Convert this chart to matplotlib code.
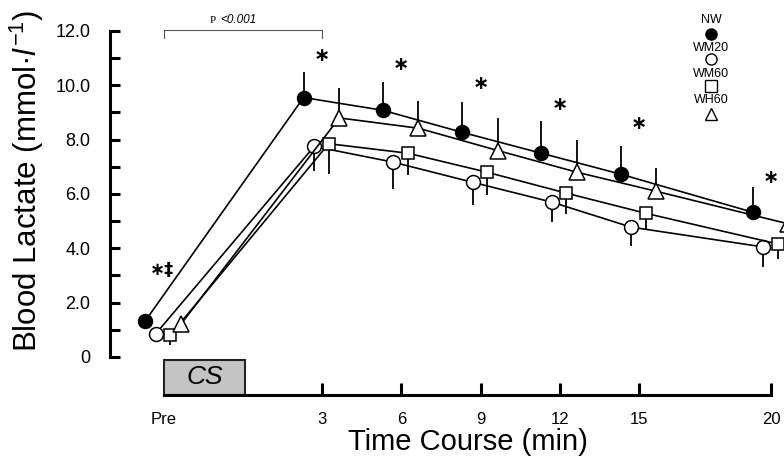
import numpy as np
import matplotlib
matplotlib.use('Agg')
import matplotlib.pyplot as plt
from matplotlib.patches import Rectangle

plt.rcParams['font.family'] = ['Liberation Sans', 'DejaVu Sans']
plt.rcParams['mathtext.fontset'] = 'custom'
plt.rcParams['mathtext.rm'] = 'Liberation Sans'
plt.rcParams['mathtext.it'] = 'Liberation Sans:italic'

# time points (Pre placed at -3 min)
times = [-3, 3, 6, 9, 12, 15, 20]
time_labels = ['Pre', '3', '6', '9', '12', '15', '20']

# blood lactate means and SD (mmol/l)
nw = [1.32, 9.55, 9.08, 8.27, 7.50, 6.73, 5.33]
nw_sd = [0.2, 0.94, 1.04, 1.11, 1.19, 1.04, 0.93]
wm20 = [0.85, 7.75, 7.17, 6.43, 5.70, 4.78, 4.05]
wm20_sd = [0.25, 0.90, 0.97, 0.85, 0.75, 0.68, 0.75]
wm60 = [0.80, 7.85, 7.50, 6.80, 6.03, 5.29, 4.16]
wm60_sd = [0.35, 1.10, 0.80, 0.85, 0.75, 0.62, 0.55]
wh60 = [1.20, 8.80, 8.42, 7.60, 6.80, 6.10, 4.90]
wh60_sd = [0.0, 1.10, 1.00, 1.20, 1.20, 0.85, 0.60]

# significance marks
sig_times = [3, 6, 9, 12, 15, 20]
sig_y = [11.1, 10.75, 10.05, 9.3, 8.6, 6.6]
pre_sig_y = 3.2

fig = plt.figure(figsize=(7.84, 4.59), dpi=100)
ax = fig.add_axes([110 / 784, 64 / 459, 674 / 784, 395 / 459])
ax.set_xlim(-5.03, 20.49)
ax.set_ylim(-1.40, 13.14)

series = [
    ('NW', nw, nw_sd, 'o', 'black', -0.7, 'up'),
    ('WM20', wm20, wm20_sd, 'o', 'white', -0.3, 'down'),
    ('WM60', wm60, wm60_sd, 's', 'white', 0.25, 'down'),
    ('WH60', wh60, wh60_sd, '^', 'white', 0.65, 'up'),
]

for name, vals, sd, mk, fc, off, side in series:
    x = np.array(times) + off
    sd = np.array(sd)
    zero = np.zeros_like(sd)
    yerr = [zero, sd] if side == 'up' else [sd, zero]
    ax.errorbar(x, vals, yerr=yerr, fmt='none', ecolor='black', elinewidth=1.3,
                capsize=0, zorder=2, clip_on=False)
    ms = 11 if mk == '^' else (9 if mk == 's' else 10)
    ax.plot(x, vals, color='black', lw=1.2, marker=mk, ms=ms, mfc=fc, mec='black',
            mew=1.1, zorder=3, clip_on=False)

for t, y in zip(sig_times, sig_y):
    ax.text(t, y, '\u2217', family='DejaVu Sans', fontsize=14, fontweight='bold',
            ha='center', va='center')
ax.text(-3.05, pre_sig_y, '\u2217\u2021', family='DejaVu Sans', fontsize=13,
        fontweight='bold', ha='center', va='center')

# p-value bracket
ax.plot([-3, -3, 3, 3], [11.74, 12.03, 12.03, 11.74], color='#555555', lw=0.8)
ax.text(-1.25, 12.4, 'P', family='Liberation Serif', fontsize=8, ha='left', va='center')
ax.text(-0.85, 12.4, '<0.001', fontsize=8.5, style='italic', ha='left', va='center')

# CS box
ax.add_patch(Rectangle((-3, -1.40), 3.1, 1.29, facecolor='#c4c4c4', edgecolor='#222222',
                       lw=1.5, zorder=2, clip_on=False))
ax.text(-1.45, -0.74, 'CS', fontsize=19, style='italic', ha='center', va='center')

# axes styling
for s in ['top', 'right']:
    ax.spines[s].set_visible(False)
ax.spines['left'].set_bounds(0, 12)
ax.spines['bottom'].set_bounds(-3, 20)
ax.spines['left'].set_linewidth(2.2)
ax.spines['bottom'].set_linewidth(2.2)

ax.set_yticks(np.arange(0, 13, 2))
ax.set_yticklabels(['0', '2.0', '4.0', '6.0', '8.0', '10.0', '12.0'])
ax.set_yticks(np.arange(1, 12, 2), minor=True)
ax.tick_params(axis='y', which='both', direction='in', length=7, width=2.2,
               labelsize=13, pad=14)

ax.set_xticks(times)
ax.set_xticklabels(time_labels)
ax.tick_params(axis='x', direction='in', length=9, width=2.2, labelsize=12, pad=12)
ax.xaxis.get_major_ticks()[0].tick1line.set_visible(False)

ax.set_xlabel('Time Course (min)', fontsize=21, va='baseline')
ax.xaxis.set_label_coords(0.531, -0.139)
ax.set_ylabel('Blood Lactate (mmol\u00b7$\\mathit{l}^{-1}$)', fontsize=22.5, va='baseline')
ax.yaxis.set_label_coords(-0.108, 0.542)

# legend, names above symbols
leg_x = 0.892
leg_items = [('NW', 'o', 'black', 0.949, 0.914),
             ('WM20', 'o', 'white', 0.878, 0.851),
             ('WM60', 's', 'white', 0.813, 0.782),
             ('WH60', '^', 'white', 0.747, 0.711)]
for name, mk, fc, ty, my in leg_items:
    ax.text(leg_x, ty, name, transform=ax.transAxes, fontsize=9, ha='center', va='center')
    ax.plot([leg_x], [my], transform=ax.transAxes, marker=mk, ms=8, mfc=fc, mec='black',
            mew=1.0, ls='none', clip_on=False)

fig.savefig('out.png', dpi=100)
